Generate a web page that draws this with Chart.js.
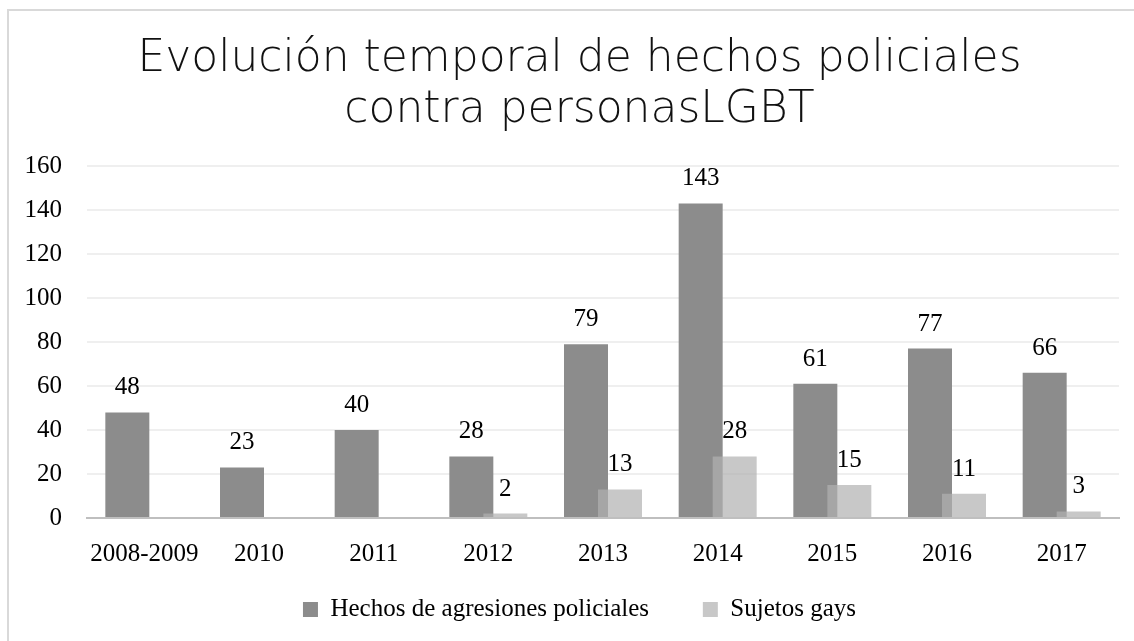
<!DOCTYPE html>
<html>
<head>
<meta charset="utf-8">
<title>Hechos policiales contra personas LGBT</title>
<script src="https://cdn.jsdelivr.net/npm/chart.js@4/dist/chart.umd.min.js"></script>
<style>
  html, body { margin: 0; padding: 0; background: #fff; }
  #wrap { width: 1134px; height: 641px; position: relative; }
</style>
</head>
<body>
<div id="wrap"><canvas id="policeChart" width="1134" height="641"></canvas></div>
<script>
// data
const categories = ['2008-2009', '2010', '2011', '2012', '2013', '2014', '2015', '2016', '2017'];
const agresiones = [48, 23, 40, 28, 79, 143, 61, 77, 66];
const sujetosGays = [0, 0, 0, 2, 13, 28, 15, 11, 3];
const seriesNames = ['Hechos de agresiones policiales', 'Sujetos gays'];
const titleLines = ['Evolución temporal de hechos policiales', 'contra personasLGBT'];
const yMin = 0, yMax = 160, yStep = 20;

const serif = "'Liberation Serif', 'DejaVu Serif', serif";

// frame around the whole chart (only top/left edges are inside the picture)
const framePlugin = {
    id: 'frame',
    beforeDraw: (chart) => {
        const ctx = chart.ctx;
        ctx.save();
        ctx.fillStyle = '#fff';
        ctx.fillRect(0, 0, chart.width, chart.height);
        ctx.strokeStyle = '#d9d9d9';
        ctx.lineWidth = 2;
        ctx.strokeRect(8, 10, chart.width + 20, chart.height + 20);
        ctx.restore();
    }
};

// light series is drawn on top of the dark one, then value labels
let lateDraw = false;
const overlapPlugin = {
    id: 'overlap',
    beforeDatasetDraw: (chart, args) => {
        if (args.index === 1 && !lateDraw) return false;
    },
    afterDatasetsDraw: (chart) => {
        lateDraw = true;
        chart.getDatasetMeta(1).controller.draw();
        lateDraw = false;

        const ctx = chart.ctx;
        ctx.save();
        ctx.font = '25px ' + serif;
        ctx.fillStyle = '#000';
        ctx.textAlign = 'center';
        ctx.textBaseline = 'alphabetic';
        chart.data.datasets.forEach((ds, di) => {
            const meta = chart.getDatasetMeta(di);
            meta.data.forEach((bar, i) => {
                const v = ds.data[i];
                if (!v) return;
                ctx.fillText(String(v), bar.x, bar.y - 18);
            });
        });
        ctx.restore();
    }
};

// default legend items, the first one padded so the items sit further apart
const legendLabels = (chart) => {
    const items = Chart.defaults.plugins.legend.labels.generateLabels(chart);
    items[0].text = items[0].text + '       ';
    return items;
};

const ctx = document.getElementById('policeChart');
const chart = new Chart(ctx, {
    type: 'bar',
    data: {
        labels: categories,
        datasets: [
            {
                label: seriesNames[0],
                data: agresiones,
                backgroundColor: 'rgb(140,140,140)',
                categoryPercentage: 0.593,
                barPercentage: 1.294
            },
            {
                label: seriesNames[1],
                data: sujetosGays,
                backgroundColor: 'rgba(177,177,177,0.7)',
                categoryPercentage: 0.593,
                barPercentage: 1.294
            }
        ]
    },
    options: {
        responsive: false,
        animation: false,
        events: [],
        layout: {
            padding: { left: 40, right: 15, top: 0, bottom: 9 }
        },
        plugins: {
            title: {
                display: true,
                text: titleLines,
                color: '#111',
                font: { family: "'DejaVu Sans', sans-serif", size: 44, weight: '200', lineHeight: 1.159 },
                padding: { top: 34, bottom: 30 }
            },
            legend: {
                display: true,
                position: 'bottom',
                labels: {
                    color: '#000',
                    boxWidth: 15,
                    boxHeight: 15,
                    padding: 10,
                    font: { family: serif, size: 25 },
                    generateLabels: legendLabels
                }
            },
            tooltip: { enabled: false }
        },
        scales: {
            x: {
                grid: { display: false, drawTicks: false },
                border: { display: true, color: '#bfbfbf', width: 2, z: 1 },
                ticks: {
                    color: '#000',
                    padding: 21,
                    font: { family: serif, size: 25 }
                },
                afterFit: (scale) => { scale.height = 69; }
            },
            y: {
                min: yMin,
                max: yMax,
                grid: { color: '#efefef', lineWidth: 2, drawTicks: false },
                border: { display: false },
                ticks: {
                    stepSize: yStep,
                    color: '#000',
                    mirror: true,
                    crossAlign: 'far',
                    padding: -62.5,
                    font: { family: serif, size: 25 }
                },
                afterFit: (scale) => { scale.width = 47; }
            }
        }
    },
    plugins: [framePlugin, overlapPlugin]
});
</script>
</body>
</html>
